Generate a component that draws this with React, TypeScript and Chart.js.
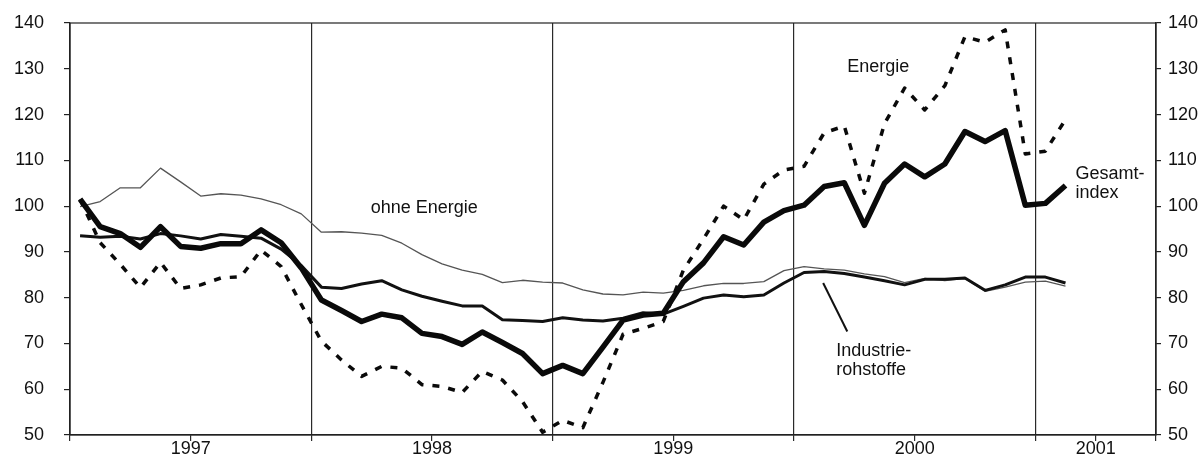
import { useEffect, useRef } from 'react';
import { Chart, registerables } from 'chart.js';

Chart.register(...registerables);

// Monthly observations, Jan 1997 – Feb 2001
const months = [
  '1997-01', '1997-02', '1997-03', '1997-04', '1997-05', '1997-06', '1997-07', '1997-08', '1997-09', '1997-10', '1997-11', '1997-12',
  '1998-01', '1998-02', '1998-03', '1998-04', '1998-05', '1998-06', '1998-07', '1998-08', '1998-09', '1998-10', '1998-11', '1998-12',
  '1999-01', '1999-02', '1999-03', '1999-04', '1999-05', '1999-06', '1999-07', '1999-08', '1999-09', '1999-10', '1999-11', '1999-12',
  '2000-01', '2000-02', '2000-03', '2000-04', '2000-05', '2000-06', '2000-07', '2000-08', '2000-09', '2000-10', '2000-11', '2000-12',
  '2001-01', '2001-02',
];

const gesamtindex = [
  101.5, 95.5, 94, 91, 95.5, 91.2, 90.8, 91.8, 91.8, 94.8, 92, 86.5,
  79.5, 77.2, 74.8, 76.4, 75.6, 72.2, 71.5, 69.8, 72.5, 70.2, 67.8, 63.4,
  65.2, 63.4, 69.2, 75.1, 76.2, 76.6, 83.5, 87.6, 93.3, 91.5, 96.5, 99,
  100.2, 104.3, 105.1, 95.8, 105, 109.2, 106.4, 109.2, 116.3, 114.1, 116.5, 100.2,
  100.6, 104.5,
];

const energie = [
  101.5, 92, 87.3, 82.2, 87.7, 82, 82.8, 84.3, 84.6, 90.4, 86.8, 78.5,
  70.5, 66.4, 62.8, 65, 64.6, 61, 60.6, 59.3, 63.9, 62, 57.3, 50.6,
  53.2, 51.6, 61.5, 72, 73.3, 74.8, 86, 92.8, 100, 97, 104.8, 107.9,
  108.7, 116, 117.5, 102.8, 118, 125.8, 121, 126.3, 137, 135.8, 138.5, 111.4,
  112, 118.9,
];

const ohneEnergie = [
  99.9, 101, 104, 104, 108.3, 105.3, 102.2, 102.7, 102.4, 101.6, 100.3, 98.3,
  94.3, 94.4, 94.1, 93.6, 91.9, 89.4, 87.4, 86, 85.1, 83.3, 83.8, 83.4,
  83.2, 81.7, 80.8, 80.6, 81.2, 81, 81.6, 82.6, 83.1, 83.1, 83.5, 85.9,
  86.8, 86.3, 86, 85.2, 84.6, 83.3, 84.2, 83.7, 84.2, 81.4, 82.3, 83.4,
  83.6, 82.5,
];

const industrierohstoffe = [
  93.5, 93.2, 93.4, 92.8, 94, 93.5, 92.8, 93.8, 93.4, 93, 90.6, 87,
  82.3, 82, 83, 83.7, 81.7, 80.3, 79.2, 78.2, 78.2, 75.2, 75, 74.8,
  75.6, 75.1, 74.9, 75.5, 76.7, 76.4, 78.1, 79.9, 80.6, 80.2, 80.6, 83.2,
  85.5, 85.7, 85.3, 84.5, 83.7, 82.8, 84, 84, 84.3, 81.6, 82.8, 84.5,
  84.5, 83.2,
];

const yearLabels = ['1997', '1998', '1999', '2000', '2001'];

const FONT = '"Liberation Sans", Arial, Helvetica, sans-serif';
const INK = '#111';

// x axis in month units: 0 = start of Jan 1997, 54 = end of Jun 2001
const yearBoundaries = [0, 12, 24, 36, 48, 54];
const yearLabelPos = [6, 18, 30, 42, 51];

const toPoints = (vals: number[]) => vals.map((v, i) => ({ x: i + 0.5, y: v, m: months[i] }));

const notes = [
  { text: 'ohne Energie', x: 14.95, y: 99.6 },
  { text: 'Energie', x: 38.65, y: 130.4 },
  { text: 'Gesamt-', x: 50.0, y: 106.9 },
  { text: 'index', x: 50.0, y: 102.9 },
  { text: 'Industrie-', x: 38.1, y: 68.3 },
  { text: 'rohstoffe', x: 38.1, y: 64.3 },
];

const zeroPad = (s: any) => {
  s.paddingTop = 0;
  s.paddingBottom = 0;
  s.paddingLeft = 0;
  s.paddingRight = 0;
};

const framePlugin = {
  id: 'frameAndNotes',
  afterDraw(chart: any) {
    const { ctx, chartArea: a, scales } = chart;
    ctx.save();
    ctx.strokeStyle = '#222';
    ctx.lineWidth = 1.2;
    ctx.strokeRect(a.left, a.top, a.right - a.left, a.bottom - a.top);

    ctx.fillStyle = INK;
    ctx.font = `18px ${FONT}`;
    ctx.textAlign = 'left';
    ctx.textBaseline = 'middle';
    for (const n of notes) {
      ctx.fillText(n.text, scales.x.getPixelForValue(n.x), scales.y.getPixelForValue(n.y));
    }

    // pointer to Industrierohstoffe
    ctx.strokeStyle = INK;
    ctx.lineWidth = 2;
    ctx.beginPath();
    ctx.moveTo(scales.x.getPixelForValue(37.45), scales.y.getPixelForValue(83.2));
    ctx.lineTo(scales.x.getPixelForValue(38.65), scales.y.getPixelForValue(72.6));
    ctx.stroke();
    ctx.restore();
  },
};

export default function App() {
  const ref = useRef<HTMLCanvasElement | null>(null);

  useEffect(() => {
    document.body.style.margin = '0';
    const canvas = ref.current;
    if (!canvas) return;

    const labelMap: Record<number, string> = {};
    yearLabelPos.forEach((p, i) => (labelMap[p] = yearLabels[i]));
    const xTicks = [...yearBoundaries, ...yearLabelPos].sort((a, b) => a - b);

    const tickFont = { family: FONT, size: 18 };

    const chart = new Chart(canvas, {
      type: 'line',
      data: {
        datasets: [
          {
            label: 'Gesamtindex',
            data: toPoints(gesamtindex),
            borderColor: '#0a0a0a',
            borderWidth: 5.5,
            order: 0,
          },
          {
            label: 'Energie',
            data: toPoints(energie),
            borderColor: '#0a0a0a',
            borderWidth: 3.5,
            borderDash: [7, 9],
            order: 1,
          },
          {
            label: 'Industrierohstoffe',
            data: toPoints(industrierohstoffe),
            borderColor: '#111',
            borderWidth: 3,
            order: 2,
          },
          {
            label: 'ohne Energie',
            data: toPoints(ohneEnergie),
            borderColor: '#555',
            borderWidth: 1.3,
            order: 3,
          },
        ] as any,
      },
      options: {
        animation: false,
        responsive: false,
        devicePixelRatio: 1,
        events: [],
        layout: { padding: { top: 23, left: 0, right: 0, bottom: 0 } },
        elements: {
          point: { radius: 0 },
          line: { tension: 0, borderJoinStyle: 'round', borderCapStyle: 'butt', fill: false },
        },
        plugins: {
          legend: { display: false },
          tooltip: { enabled: false },
          title: { display: false },
        },
        scales: {
          x: {
            type: 'linear',
            position: 'bottom',
            min: 0,
            max: 54,
            afterBuildTicks: (s: any) => {
              s.ticks = xTicks.map((v) => ({ value: v }));
            },
            afterFit: (s: any) => {
              s.height = 22;
              zeroPad(s);
            },
            ticks: {
              autoSkip: false,
              maxRotation: 0,
              minRotation: 0,
              padding: -1,
              color: INK,
              font: { ...tickFont, lineHeight: 1 },
              callback: (v: any) => labelMap[v as number] ?? '',
            },
            grid: {
              drawOnChartArea: true,
              color: (c: any) =>
                c.tick && yearBoundaries.includes(c.tick.value) ? '#2a2a2a' : 'rgba(0,0,0,0)',
              tickColor: '#2a2a2a',
              tickLength: 6,
              lineWidth: 1.2,
            },
            border: { display: true, color: '#222', width: 1.2 },
          },
          y: {
            type: 'linear',
            position: 'left',
            min: 50,
            max: 140,
            afterFit: (s: any) => {
              s.width = 70;
              zeroPad(s);
            },
            ticks: { stepSize: 10, padding: 20, color: INK, font: tickFont },
            grid: { drawOnChartArea: false, tickLength: 6, color: '#222', lineWidth: 1.2 },
            border: { display: true, color: '#222', width: 1.2 },
          },
          y2: {
            type: 'linear',
            position: 'right',
            min: 50,
            max: 140,
            afterFit: (s: any) => {
              s.width = 46;
              zeroPad(s);
            },
            ticks: { stepSize: 10, padding: 7, color: INK, font: tickFont },
            grid: { drawOnChartArea: false, tickLength: 5, color: '#222', lineWidth: 1.2 },
            border: { display: true, color: '#222', width: 1.2 },
          },
        },
      } as any,
      plugins: [framePlugin],
    });

    return () => chart.destroy();
  }, []);

  return (
    <div style={{ width: 1202, height: 457, background: '#fff' }}>
      <canvas ref={ref} width={1202} height={457} style={{ display: 'block', width: 1202, height: 457 }} />
    </div>
  );
}
